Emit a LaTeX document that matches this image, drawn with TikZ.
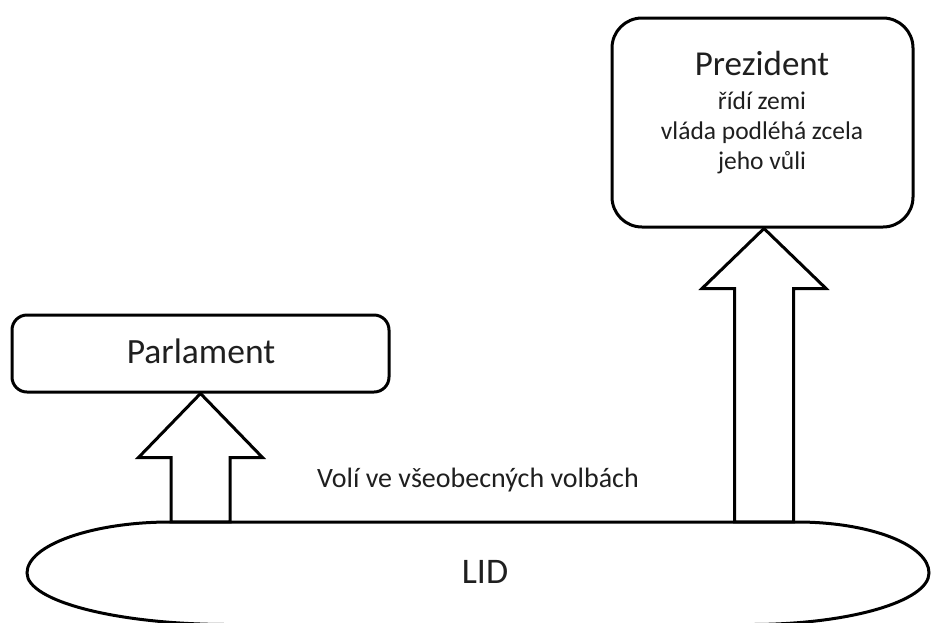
\documentclass[tikz,border=0pt]{standalone}
\usepackage{fontspec}
\setmainfont{Carlito}
\usetikzlibrary{calc}
\tikzset{
  box/.style={draw=black, line width=3pt, fill=white, rounded corners=#1, inner sep=0pt},
  blk/.style={draw=black, line width=3pt, fill=white, line join=miter},
  outline/.style={draw=black, line width=3pt, fill=white},
  txt/.style={inner sep=0pt, text=black!88},
}
\begin{document}
\begin{tikzpicture}[x=1pt,y=-1pt]
\fill[white] (0,0) rectangle (931,622);
\useasboundingbox (0,0) rectangle (931,622);

% LID shape
\node[inner sep=0pt, minimum width=902pt, minimum height=102pt] (lid) at (478,573) {};
\draw[outline] (170,522) -- (797,522)
  .. controls (869.9,522) and (929,544.8) .. (929,573)
  .. controls (929,601.2) and (849.3,624.5) .. (751,624.5)
  -- (228,624.5)
  .. controls (117,624.5) and (27,601.2) .. (27,573)
  .. controls (27,544.8) and (93,522) .. cycle;
\node[txt, font=\fontsize{36}{40}\selectfont, anchor=base] (lidt) at (485,583) {LID};

% boxes
\node[box=30pt, minimum width=301pt, minimum height=209pt] (prez) at (762.5,122.5) {};
\node[txt, font=\fontsize{35}{40}\selectfont, anchor=base] (prezt) at (762,75) {Prezident};
\node[txt, font=\fontsize{25.5}{30}\selectfont, anchor=base] (l1) at (762,109) {řídí zemi};
\node[txt, font=\fontsize{25.5}{30}\selectfont, anchor=base] (l2) at (762,139) {vláda podléhá zcela};
\node[txt, font=\fontsize{25.5}{30}\selectfont, anchor=base] (l3) at (762,169) {jeho vůli};

\node[box=15pt, minimum width=377pt, minimum height=77pt] (parl) at (200.5,353.5) {};
\node[txt, font=\fontsize{35.5}{40}\selectfont, anchor=base] (parlt) at (201,363) {Parlament};

% block arrows
\draw[blk] (parl.south) -- ++(62,64) -- ++(-32.5,0)
  -- ($(parl.south |- lid.north)+(29.5,0)$) -- ++(-59,0)
  -- ($(parl.south)+(-29.5,64)$) -- ++(-32.5,0) -- cycle;
\draw[blk] ([xshift=1.5pt]prez.south) -- ++(62,60) -- ++(-32.5,0)
  -- ($([xshift=1.5pt]prez.south |- lid.north)+(29.5,0)$) -- ++(-59,0)
  -- ($([xshift=1.5pt]prez.south)+(-29.5,60)$) -- ++(-32.5,0) -- cycle;

\node[txt, font=\fontsize{28}{30}\selectfont, anchor=base] (volby) at (478,487) {Volí ve všeobecných volbách};
\end{tikzpicture}
\end{document}
